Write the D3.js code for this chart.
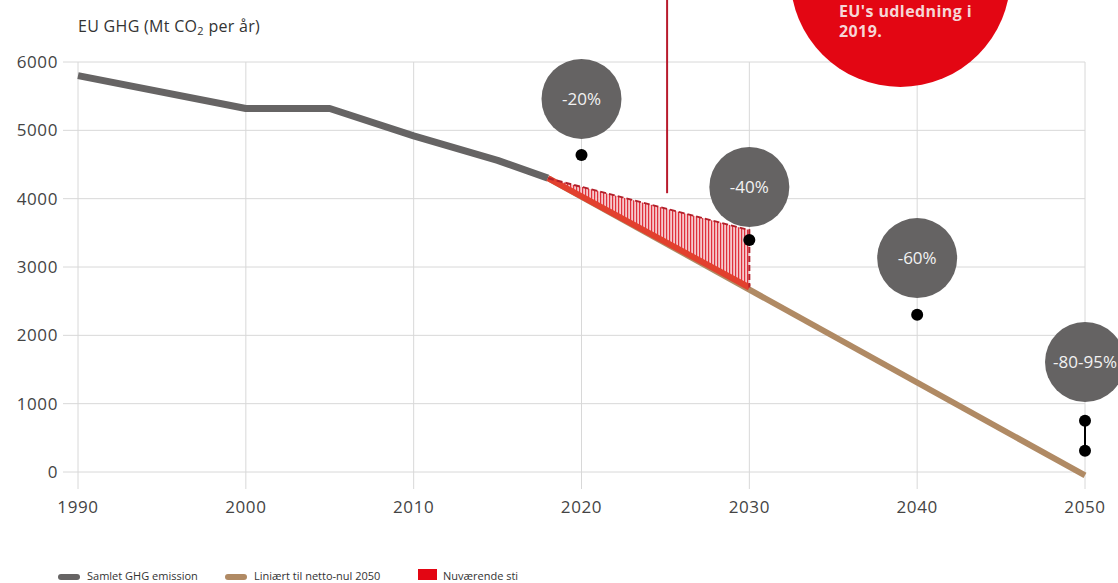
<!DOCTYPE html>
<html>
<head>
<meta charset="utf-8">
<script src="https://cdn.jsdelivr.net/npm/d3@7"></script>
<style>
  body { margin: 0; background: #fff; }
  svg { display: block; font-family: "Open Sans", sans-serif; }
</style>
</head>
<body>
<div id="chart"></div>
<script>
// Historic EU emissions (Mt CO2)
var histYears = [1990, 2000, 2005, 2010, 2015, 2018];
var histValues = [5800, 5320, 5320, 4920, 4560, 4300];

// Linear path to net zero
var linYears = [2018, 2050];
var linValues = [4300, -50];

// Current path (red hatched area)
var curYears = [2018, 2030];
var curUpper = [4300, 3540];
var curLower = [4300, 2700];

// Targets
var targetYears = [2020, 2030, 2040, 2050];
var targetLabels = ["-20%", "-40%", "-60%", "-80-95%"];
var bubbleValues = [5460, 4170, 3130, 1610];
var targetDots = [[4640], [3395], [2300], [750, 310]];

var xTicks = [1990, 2000, 2010, 2020, 2030, 2040, 2050];
var yTicks = [0, 1000, 2000, 3000, 4000, 5000, 6000];

var legendLabels = ["Samlet GHG emission", "Liniært til netto-nul 2050", "Nuværende sti"];
var legendColors = ["#666464", "#b08a64", "#e30613"];

var width = 1118, height = 583;

var svg = d3.select("#chart").append("svg").attr("width", width).attr("height", height);

var x = d3.scaleLinear().domain([1990, 2050]).range([78, 1085]);
var y = d3.scaleLinear().domain([0, 6000]).range([472, 62]);

// hatch pattern
var defs = svg.append("defs");
var pat = defs.append("pattern").attr("id", "hatch").attr("patternUnits", "userSpaceOnUse")
    .attr("width", 3).attr("height", 10);
pat.append("rect").attr("width", 3).attr("height", 10).attr("fill", "#f6c9cc");
pat.append("rect").attr("width", 1.2).attr("height", 10).attr("fill", "#e0303c");

// gridlines
svg.append("g").selectAll("line").data(yTicks).enter().append("line")
    .attr("x1", 63).attr("x2", x(2050))
    .attr("y1", function(d) { return y(d); }).attr("y2", function(d) { return y(d); })
    .style("stroke", "#d8d8d8").style("stroke-width", 1);

svg.append("g").selectAll("line").data(xTicks).enter().append("line")
    .attr("x1", function(d) { return x(d); }).attr("x2", function(d) { return x(d); })
    .attr("y1", y(6000)).attr("y2", 489)
    .style("stroke", "#d8d8d8").style("stroke-width", 1);

// axis labels
svg.append("g").selectAll("text").data(yTicks).enter().append("text")
    .attr("x", 58).attr("y", function(d) { return y(d) + 6; })
    .attr("text-anchor", "end").style("font-size", "17px").style("letter-spacing", "0.6px")
    .style("fill", "#444")
    .text(function(d) { return d; });

svg.append("g").selectAll("text").data(xTicks).enter().append("text")
    .attr("x", function(d) { return x(d); }).attr("y", 513)
    .attr("text-anchor", "middle").style("font-size", "17px").style("letter-spacing", "0.6px")
    .style("fill", "#444")
    .text(function(d) { return d; });

// title
var title = svg.append("text").attr("x", 78).attr("y", 32)
    .style("font-size", "16px").style("letter-spacing", "0.3px").style("fill", "#333");
title.append("tspan").text("EU GHG (Mt CO");
title.append("tspan").style("font-size", "11px").attr("dy", 3).text("2");
title.append("tspan").attr("dy", -3).text(" per år)");

// red vertical line
svg.append("line")
    .attr("x1", x(2025.1)).attr("x2", x(2025.1))
    .attr("y1", 0).attr("y2", y(4080))
    .style("stroke", "#b81a2c").style("stroke-width", 2);

// big red circle
svg.append("circle").attr("cx", x(2039)).attr("cy", y(7245)).attr("r", 110).style("fill", "#e30613");
svg.append("text").attr("x", 839).attr("y", 17).style("font-size", "16px").style("font-weight", "bold")
    .style("letter-spacing", "0.4px").style("fill", "#f6d6d6").text("EU's udledning i");
svg.append("text").attr("x", 839).attr("y", 37).style("font-size", "16px").style("font-weight", "bold")
    .style("letter-spacing", "0.4px").style("fill", "#f6d6d6").text("2019.");

var line = d3.line().x(function(d) { return x(d[0]); }).y(function(d) { return y(d[1]); });

// historic line
svg.append("path").datum(d3.zip(histYears, histValues))
    .attr("d", line).style("fill", "none").style("stroke", "#666464")
    .style("stroke-width", 7).style("stroke-linejoin", "round");

// linear path
svg.append("path").datum(d3.zip(linYears, linValues))
    .attr("d", line).style("fill", "none").style("stroke", "#b08a64")
    .style("stroke-width", 6);

// current path area
var area = d3.area()
    .x(function(d) { return x(d[0]); })
    .y0(function(d) { return y(d[2]); })
    .y1(function(d) { return y(d[1]); });
var areaData = d3.zip(curYears, curUpper, curLower);
svg.append("path").datum(areaData).attr("d", area).style("fill", "url(#hatch)");

// thick lower edge in red-orange
svg.append("path").datum(d3.zip(curYears, curLower))
    .attr("d", line).style("fill", "none").style("stroke", "#e2402e").style("stroke-width", 6);

// dashed upper edge and right edge
svg.append("path").datum(d3.zip(curYears, curUpper).concat([[curYears[1], curLower[1]]]))
    .attr("d", line).style("fill", "none").style("stroke", "#b2202a")
    .style("stroke-width", 2).style("stroke-dasharray", "6,3");

// target bubbles
var targets = targetYears.map(function(yr, i) {
    return { year: yr, label: targetLabels[i], bubble: bubbleValues[i], dots: targetDots[i] };
});

var tg = svg.append("g").selectAll("g").data(targets).enter().append("g");

tg.filter(function(d) { return d.dots.length > 1; }).append("line")
    .attr("x1", function(d) { return x(d.year); }).attr("x2", function(d) { return x(d.year); })
    .attr("y1", function(d) { return y(d.dots[0]); }).attr("y2", function(d) { return y(d.dots[1]); })
    .style("stroke", "#000").style("stroke-width", 2);

tg.selectAll("circle.dot").data(function(d) { return d.dots.map(function(v) { return [d.year, v]; }); })
    .enter().append("circle").attr("class", "dot")
    .attr("cx", function(d) { return x(d[0]); }).attr("cy", function(d) { return y(d[1]); })
    .attr("r", 6).style("fill", "#000");

tg.append("circle")
    .attr("cx", function(d) { return x(d.year); }).attr("cy", function(d) { return y(d.bubble); })
    .attr("r", 40).style("fill", "#656363");

tg.append("text")
    .attr("x", function(d) { return x(d.year); }).attr("y", function(d) { return y(d.bubble) + 6; })
    .attr("text-anchor", "middle").style("font-size", "17px").style("fill", "#f2f2f2")
    .text(function(d) { return d.label; });

// legend
var legendX = [58, 225, 418];
var lg = svg.append("g").selectAll("g").data(legendLabels).enter().append("g")
    .attr("transform", function(d, i) { return "translate(" + legendX[i] + ",576)"; });
lg.append("rect")
    .attr("x", 0).attr("y", function(d, i) { return i == 2 ? -7 : -2; })
    .attr("width", function(d, i) { return i == 2 ? 19 : 22; })
    .attr("height", function(d, i) { return i == 2 ? 11 : 6; })
    .attr("rx", function(d, i) { return i == 2 ? 0 : 3; })
    .style("fill", function(d, i) { return legendColors[i]; });
lg.append("text")
    .attr("x", function(d, i) { return i == 2 ? 25 : 29; }).attr("y", 4)
    .style("font-size", "11px").style("fill", "#333")
    .text(function(d) { return d; });
</script>
</body>
</html>
